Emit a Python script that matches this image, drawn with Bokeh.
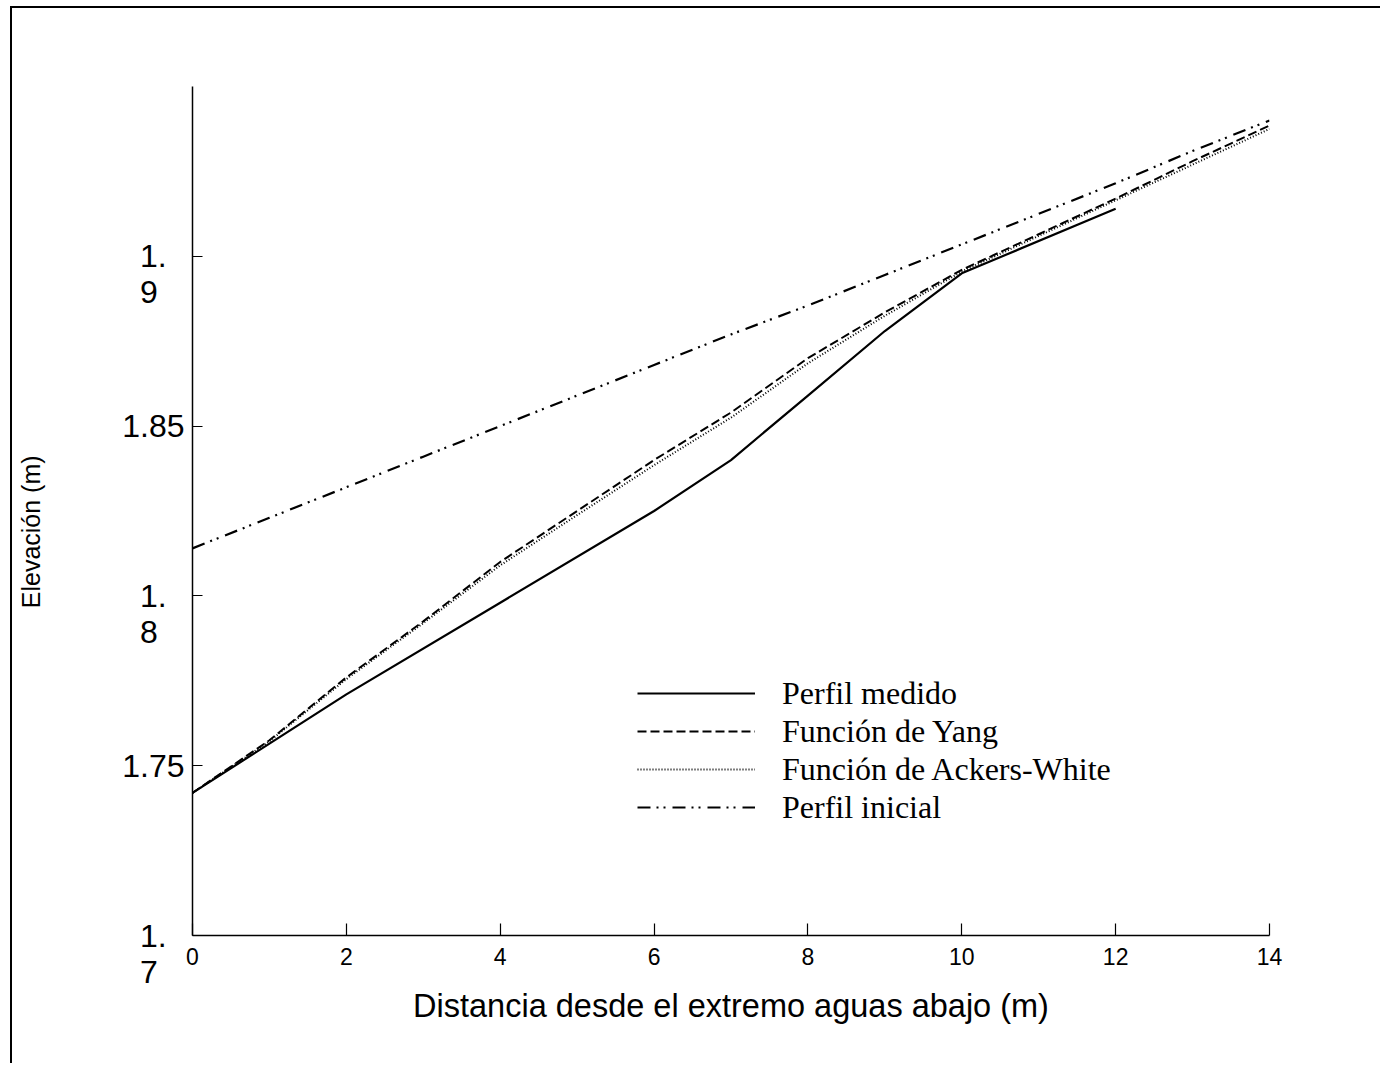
from bokeh.plotting import figure
from bokeh.models import Range1d, FixedTicker, Legend, LegendItem
from bokeh.embed import file_html
from bokeh.resources import INLINE

# ---- data ----
x_medido = [0, 2, 4, 6, 7, 8, 9, 10, 12]
y_medido = [1.742, 1.771, 1.798, 1.825, 1.840, 1.859, 1.878, 1.895, 1.914]

x_sim = [0, 1, 2, 3, 4, 5, 6, 7, 8, 9, 10, 11, 12, 13, 14]
y_yang = [1.742, 1.7575, 1.776, 1.7925, 1.810, 1.825, 1.840, 1.854, 1.870,
          1.8835, 1.896, 1.9065, 1.917, 1.928, 1.9385]
y_ackers = [1.742, 1.7572, 1.7755, 1.792, 1.809, 1.8238, 1.8385, 1.8525, 1.8685,
            1.8825, 1.8955, 1.906, 1.9165, 1.927, 1.9375]

x_inicial = [0, 1, 2, 3, 4, 5, 6, 7, 8, 9, 10, 11, 12, 13, 14]
y_inicial = [1.814, 1.823, 1.832, 1.841, 1.850, 1.859, 1.868, 1.877, 1.8855,
             1.8945, 1.9035, 1.9125, 1.9215, 1.931, 1.940]

x_ticks = [0, 2, 4, 6, 8, 10, 12, 14]
y_ticks = [1.7, 1.75, 1.8, 1.85, 1.9]
NB = "\u00a0"
y_tick_labels = {
    1.7: "\n1." + NB * 2 + "\n7" + NB * 3,
    1.75: "1.75",
    1.8: "\n1." + NB * 2 + "\n8" + NB * 3,
    1.85: "1.85",
    1.9: "\n1." + NB * 2 + "\n9" + NB * 3,
}

series_names = ["Perfil medido", "Función de Yang", "Función de Ackers-White", "Perfil inicial"]
x_title = "Distancia desde el extremo aguas abajo (m)"
y_title = "Elevación (m)"

SANS = "Liberation Sans"
SERIF = "Liberation Serif"

p = figure(width=1370, height=1057, output_backend="svg", toolbar_location=None,
           x_range=Range1d(0, 14), y_range=Range1d(1.7, 1.95),
           min_border_left=180, min_border_right=113, min_border_top=78, min_border_bottom=130)
p.styles = {"border-left": "2px solid black", "border-top": "2px solid black",
            "margin-left": "10px", "margin-top": "6px"}
p.outline_line_color = None
p.xgrid.visible = False
p.ygrid.visible = False
p.background_fill_color = "white"
p.border_fill_color = "white"

# axes
p.xaxis.ticker = FixedTicker(ticks=x_ticks)
p.yaxis.ticker = FixedTicker(ticks=y_ticks)
p.yaxis.major_label_overrides = y_tick_labels
for ax in (p.xaxis[0], p.yaxis[0]):
    ax.axis_line_color = "black"
    ax.axis_line_width = 1.5
    ax.major_tick_line_color = "black"
    ax.major_tick_line_width = 1.2
    ax.major_tick_out = 0
    ax.minor_tick_line_color = None
    ax.major_label_text_font = SANS
    ax.major_label_text_color = "black"
    ax.axis_label_text_font = SANS
    ax.axis_label_text_font_style = "normal"
    ax.axis_label_text_color = "black"

p.xaxis.major_tick_in = 12
p.yaxis.major_tick_in = 10
p.xaxis.major_label_text_font_size = "23px"
p.yaxis.major_label_text_font_size = "32px"
p.yaxis.major_label_text_line_height = 1.0
p.xaxis.major_label_standoff = 12
p.yaxis.major_label_standoff = 8
p.xaxis.axis_label = x_title
p.yaxis.axis_label = y_title + NB * 6
p.xaxis.axis_label_text_font_size = "32.5px"
p.yaxis.axis_label_text_font_size = "25px"
p.xaxis.axis_label_standoff = 20
p.yaxis.axis_label_standoff = 74

r1 = p.line(x_medido, y_medido, line_color="black", line_width=2.2)
r2 = p.line(x_sim, y_yang, line_color="black", line_width=2, line_dash="9 4")
r3 = p.line(x_sim, y_ackers, line_color="black", line_width=2, line_dash="1 2")
r4 = p.line(x_inicial, y_inicial, line_color="black", line_width=2.2, line_dash="13 6 2 5 2 7")

legend = Legend(items=[LegendItem(label=series_names[0], renderers=[r1]),
                       LegendItem(label=series_names[1], renderers=[r2]),
                       LegendItem(label=series_names[2], renderers=[r3]),
                       LegendItem(label=series_names[3], renderers=[r4])],
                location=(445, 109), border_line_color=None, background_fill_alpha=0,
                padding=0, margin=0, spacing=0, label_height=38, glyph_height=38,
                glyph_width=118, label_standoff=27,
                label_text_font=SERIF, label_text_font_size="32px", label_text_color="black")
p.add_layout(legend, "center")

open("out.html", "w").write(file_html(p, INLINE))
